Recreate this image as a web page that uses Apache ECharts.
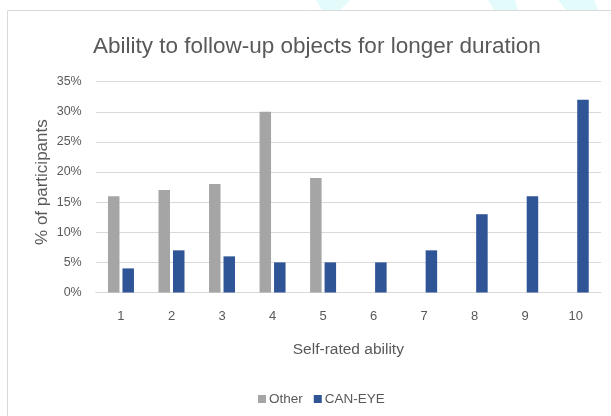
<!DOCTYPE html>
<html>
<head>
<meta charset="utf-8">
<script src="https://cdn.jsdelivr.net/npm/echarts@6/dist/echarts.min.js"></script>
<style>
  html, body { margin: 0; padding: 0; background: #ffffff; }
  #chart { width: 611px; height: 416px; }
</style>
</head>
<body>
<div id="chart"></div>
<script>
// Self-rated ability scores (1–10) and share of participants per score
const categories = ['1', '2', '3', '4', '5', '6', '7', '8', '9', '10'];
const otherValues = [16, 17, 18, 30, 19, 0, 0, 0, 0, 0];
const canEyeValues = [4, 7, 6, 5, 5, 5, 7, 13, 16, 32];
const yTicks = [0, 5, 10, 15, 20, 25, 30, 35];

const FONT = 'Liberation Sans';
const TEXT = '#595959';

const chart = echarts.init(document.getElementById('chart'), null, { renderer: 'canvas' });

chart.setOption({
  backgroundColor: '#ffffff',
  animation: false,
  textStyle: { fontFamily: FONT, color: TEXT },
  title: {
    text: 'Ability to follow-up objects for longer duration',
    left: 88,
    top: 30,
    textStyle: { fontFamily: FONT, fontSize: 22.5, fontWeight: 'normal', color: TEXT }
  },
  graphic: [
    // light decorative shapes above the frame
    { type: 'polygon', silent: true, z: -10,
      shape: { points: [[316, 0], [350, 0], [340, 10], [322, 10]] },
      style: { fill: '#e4fbfc' } },
    { type: 'polygon', silent: true, z: -10,
      shape: { points: [[488, 0], [515, 0], [518, 10], [494, 10]] },
      style: { fill: '#e4fbfc' } },
    { type: 'polygon', silent: true, z: -10,
      shape: { points: [[558, 0], [594, 0], [598, 10], [566, 10]] },
      style: { fill: '#e4fbfc' } },
    // chart frame
    { type: 'rect', silent: true, z: -5,
      shape: { x: 7.5, y: 10.5, width: 700, height: 500 },
      style: { fill: '#ffffff', stroke: '#d9d9d9', lineWidth: 1 } }
  ],
  legend: {
    data: ['Other', 'CAN-EYE'],
    left: 253,
    top: 387,
    itemWidth: 8,
    itemHeight: 8,
    itemGap: 11,
    icon: 'rect',
    textStyle: { fontFamily: FONT, fontSize: 13.5, color: TEXT, padding: [0, 0, 0, -2] }
  },
  grid: {
    left: 95.7,
    right: 10,
    top: 81.7,
    bottom: 123.5,
    containLabel: false
  },
  xAxis: {
    type: 'category',
    data: categories,
    name: 'Self-rated ability',
    nameLocation: 'middle',
    nameGap: 49,
    nameTextStyle: { fontFamily: FONT, fontSize: 15.5, color: TEXT },
    axisLine: { show: true, lineStyle: { color: '#d9d9d9', width: 1 } },
    axisTick: { show: false },
    axisLabel: { fontFamily: FONT, fontSize: 13, color: TEXT, margin: 17 }
  },
  yAxis: {
    type: 'value',
    min: yTicks[0],
    max: yTicks[yTicks.length - 1],
    interval: yTicks[1] - yTicks[0],
    name: '% of participants',
    nameLocation: 'middle',
    nameRotate: 90,
    nameGap: 45,
    nameMoveOverlap: false,
    nameTextStyle: { fontFamily: FONT, fontSize: 17, color: TEXT, padding: [0, 0, 0, 10] },
    axisLine: { show: false },
    axisTick: { show: false },
    splitLine: { show: true, lineStyle: { color: '#d9d9d9', width: 1 } },
    axisLabel: { fontFamily: FONT, fontSize: 12.5, color: TEXT, margin: 14, formatter: '{value}%' }
  },
  series: [
    {
      name: 'Other',
      type: 'bar',
      data: otherValues,
      barWidth: 11.5,
      barGap: '26%',
      itemStyle: { color: '#a5a5a5' }
    },
    {
      name: 'CAN-EYE',
      type: 'bar',
      data: canEyeValues,
      barWidth: 11.5,
      barGap: '26%',
      itemStyle: { color: '#2f5597' }
    }
  ]
});
</script>
</body>
</html>
